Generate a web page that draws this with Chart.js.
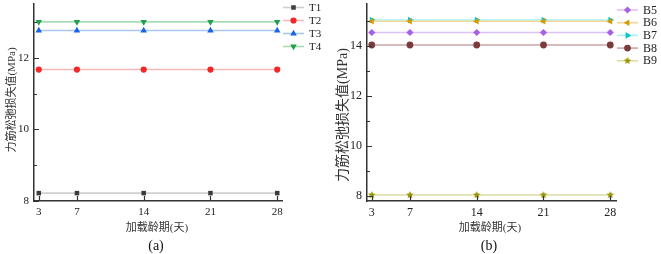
<!DOCTYPE html>
<html>
<head>
<meta charset="utf-8">
<script src="https://cdn.jsdelivr.net/npm/chart.js@4/dist/chart.umd.min.js"></script>
<style>
  html, body { margin: 0; padding: 0; background: #fff; }
  #wrap { position: relative; width: 661px; height: 254px; }
  .box { position: absolute; top: 0; height: 254px; }
</style>
</head>
<body>
<div id="wrap">
  <div class="box" style="left:0;width:330px"><canvas id="chartA"></canvas></div>
  <div class="box" style="left:330px;width:331px"><canvas id="chartB"></canvas></div>
</div>
<script>
// data
const days = [3, 7, 14, 21, 28];

const tLabels = ["T1", "T2", "T3", "T4"];
const t1 = [8.22, 8.22, 8.22, 8.22, 8.22];
const t2 = [11.67, 11.67, 11.67, 11.67, 11.67];
const t3 = [12.76, 12.76, 12.76, 12.76, 12.76];
const t4 = [13.0, 13.0, 13.0, 13.0, 13.0];
const yTicksA = [8, 10, 12];

const bLabels = ["B5", "B6", "B7", "B8", "B9"];
const b5 = [14.53, 14.53, 14.53, 14.53, 14.53];
const b6 = [14.98, 14.98, 14.98, 14.98, 14.98];
const b7 = [15.03, 15.03, 15.03, 15.03, 15.03];
const b8 = [14.03, 14.03, 14.03, 14.03, 14.03];
const b9 = [8.03, 8.03, 8.03, 8.03, 8.03];
const yTicksB = [8, 10, 12, 14];

const xTitle = "加载龄期(天)";
const yTitle = "力筋松弛损失值(MPa)";

const FONT = '"Liberation Serif", "Noto Sans CJK SC", serif';

// filled five point star, Origin style
function makeStar(color, r) {
    const c = document.createElement("canvas");
    c.width = c.height = r * 2 + 2;
    const g = c.getContext("2d");
    g.fillStyle = color;
    g.beginPath();
    for (let i = 0; i < 10; i++) {
        const rr = i % 2 ? r * 0.45 : r;
        const a = -Math.PI / 2 + i * Math.PI / 5;
        g.lineTo(r + 1 + rr * Math.cos(a), r + 1 + rr * Math.sin(a));
    }
    g.closePath();
    g.fill();
    return c;
}

const mk = (label, vals, line, fill, style, radius, rot) => ({
    label,
    data: days.map((d, i) => ({ x: d, y: vals[i] })),
    borderColor: line,
    borderWidth: 1.6,
    pointBackgroundColor: fill,
    pointBorderColor: fill,
    pointBorderWidth: 0,
    pointStyle: style,
    pointRadius: radius,
    pointRotation: rot || 0
});

const dsA = [
    mk(tLabels[0], t1, "#cfcfcf", "#3c3c3c", "rect", 3.2),
    mk(tLabels[1], t2, "#f7b9b9", "#f02828", "circle", 3.1),
    mk(tLabels[2], t3, "#a9c6f4", "#1a62e6", "triangle", 3.8),
    mk(tLabels[3], t4, "#a8dcb5", "#23a04e", "triangle", 3.8, 180)
];

const dsB = [
    mk(bLabels[0], b5, "#dcc2f4", "#a860e6", "rectRot", 3.6),
    mk(bLabels[1], b6, "#f1d79b", "#d69a00", "triangle", 3.8, -90),
    mk(bLabels[2], b7, "#a6f2f2", "#00c8cc", "triangle", 3.8, 90),
    mk(bLabels[3], b8, "#c9a7a7", "#7b3b3b", "circle", 3.4),
    mk(bLabels[4], b9, "#dcdca4", "#9a9400", makeStar("#9a9400", 4), 4)
];

// inward ticks, legend and titles
const decor = {
    id: "decor",
    afterDraw(chart, args, o) {
        const ctx = chart.ctx;
        const xs = chart.scales.x, ys = chart.scales.y;
        const area = chart.chartArea;
        ctx.save();
        ctx.strokeStyle = "#333";
        ctx.lineWidth = 1.2;
        ctx.beginPath();
        days.forEach(d => {
            const px = Math.round(xs.getPixelForValue(d)) + 0.5;
            ctx.moveTo(px, area.bottom);
            ctx.lineTo(px, area.bottom - 5);
        });
        o.yTicks.forEach(v => {
            const py = Math.round(ys.getPixelForValue(v)) + 0.5;
            ctx.moveTo(area.left, py);
            ctx.lineTo(area.left + 5, py);
            const pm = ys.getPixelForValue(v + 1);
            if (pm > area.top) {
                ctx.moveTo(area.left, Math.round(pm) + 0.5);
                ctx.lineTo(area.left + 3, Math.round(pm) + 0.5);
            }
        });
        ctx.stroke();

        // legend
        ctx.font = o.legendSize + "px " + FONT;
        ctx.textBaseline = "middle";
        ctx.textAlign = "left";
        chart.data.datasets.forEach((ds, i) => {
            const y = o.legendY + i * o.legendStep;
            ctx.strokeStyle = ds.borderColor;
            ctx.lineWidth = 1.6;
            ctx.beginPath();
            ctx.moveTo(o.legendX, y);
            ctx.lineTo(o.legendX + 21, y);
            ctx.stroke();
            ctx.fillStyle = ds.pointBackgroundColor;
            ctx.strokeStyle = ds.pointBackgroundColor;
            Chart.helpers.drawPoint(ctx, {
                pointStyle: ds.pointStyle,
                radius: ds.pointRadius,
                rotation: ds.pointRotation,
                borderWidth: 0
            }, o.legendX + 10.5, y);
            ctx.fillStyle = "#222";
            ctx.fillText(ds.label, o.legendX + 26, y + 0.5);
        });

        // titles
        ctx.fillStyle = "#333";
        ctx.textAlign = "center";
        ctx.font = "11px " + FONT;
        ctx.fillText(xTitle, o.xTitleX, 228);
        ctx.font = "14px " + FONT;
        ctx.fillStyle = "#111";
        ctx.fillText(o.caption, o.xTitleX - 1, 246);
        ctx.save();
        ctx.translate(o.yTitleX, o.yTitleY);
        ctx.rotate(-Math.PI / 2);
        ctx.font = o.yTitleSize + "px " + FONT;
        ctx.fillStyle = "#333";
        ctx.fillText(yTitle, 0, 0);
        ctx.restore();
        ctx.restore();
    }
};

function build(id, datasets, yMin, yMax, yTicks, xMax, yWidth, padRight, fs, extra) {
    return new Chart(document.getElementById(id), {
        type: "line",
        data: { datasets },
        options: {
            responsive: true,
            maintainAspectRatio: false,
            animation: false,
            events: [],
            layout: { padding: { top: 3, right: padRight, left: 0, bottom: 0 } },
            plugins: {
                legend: { display: false },
                tooltip: { enabled: false },
                decor: extra
            },
            scales: {
                x: {
                    type: "linear",
                    min: 2.5,
                    max: xMax,
                    afterBuildTicks: s => { s.ticks = days.map(v => ({ value: v })); },
                    afterFit: s => { s.height = 53; s.paddingLeft = 0; s.paddingRight = 0; },
                    grid: { display: true, drawOnChartArea: false, drawTicks: false },
                    border: { display: true, color: "#333", width: 1.5 },
                    ticks: { padding: 5, color: "#222", font: { family: FONT, size: fs }, maxRotation: 0 }
                },
                y: {
                    type: "linear",
                    min: yMin,
                    max: yMax,
                    afterBuildTicks: s => { s.ticks = yTicks.map(v => ({ value: v })); },
                    afterFit: s => { s.width = yWidth; s.paddingTop = 0; s.paddingBottom = 0; },
                    grid: { display: true, drawOnChartArea: false, drawTicks: false },
                    border: { display: true, color: "#333", width: 1.5 },
                    ticks: { padding: 5, color: "#222", font: { family: FONT, size: fs } }
                }
            }
        },
        plugins: [decor]
    });
}

build("chartA", dsA, 8, 13.5, yTicksA, 28.5, 34, 48, 11, {
    yTicks: yTicksA, legendX: 283, legendY: 7.5, legendStep: 13, legendSize: 11,
    xTitleX: 157, caption: "(a)", yTitleX: 12, yTitleY: 100, yTitleSize: 11
});
build("chartB", dsB, 7.79, 15.67, yTicksB, 28.6, 37, 45, 12, {
    yTicks: yTicksB, legendX: 287, legendY: 10, legendStep: 12.7, legendSize: 12,
    xTitleX: 160, caption: "(b)", yTitleX: 13, yTitleY: 115, yTitleSize: 14
});
</script>
</body>
</html>
